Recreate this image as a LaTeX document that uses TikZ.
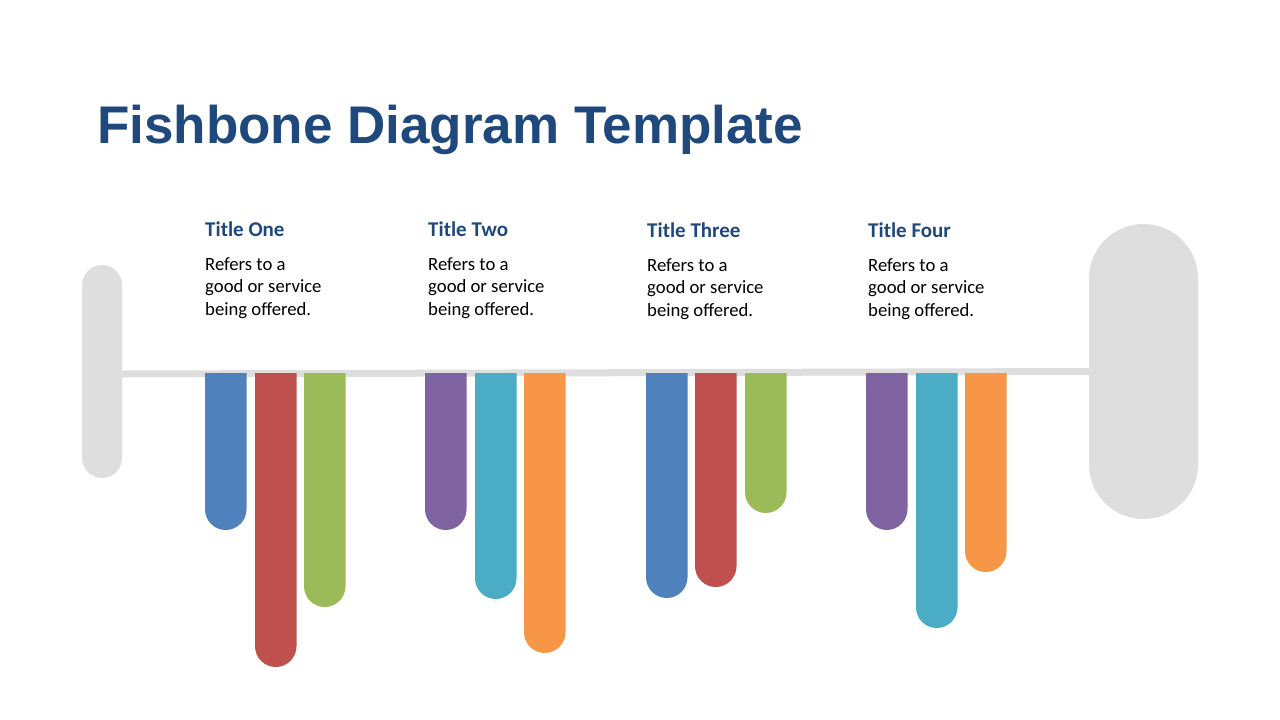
\documentclass[tikz,border=0pt]{standalone}
\usepackage{fontspec}
\setmainfont{Carlito}
\newfontfamily\headfont{Liberation Sans}
\usetikzlibrary{positioning}
\usepackage{xcolor}

\definecolor{titleblue}{HTML}{1F497D}
\definecolor{bonegray}{HTML}{DEDEDE}
\definecolor{barblue}{HTML}{4F81BD}
\definecolor{barred}{HTML}{C0504D}
\definecolor{bargreen}{HTML}{9BBB59}
\definecolor{barpurple}{HTML}{8064A2}
\definecolor{barteal}{HTML}{4BACC6}
\definecolor{barorange}{HTML}{F79646}

\begin{document}
\begin{tikzpicture}[x=1pt,y=-1pt,
    capbox/.style={fill=bonegray, inner sep=0pt, rounded corners=#1},
    spine/.style={draw=bonegray, line width=7pt},
    cause/.style={font=\bfseries\fontsize{21}{24}\selectfont, text=titleblue,
                  inner sep=0pt, anchor=base west},
    note/.style={font=\fontsize{18.7}{22.8}\selectfont, align=left,
                 inner sep=0pt}]
    \useasboundingbox (0,0) rectangle (1280,720);
    \fill[white] (0,0) rectangle (1280,720);

    % heading
    \node[font=\headfont\bfseries\fontsize{53}{60}\selectfont,
          text=titleblue,
          anchor=base west,
          inner sep=0pt
          ] (heading) at (97,143) {Fishbone Diagram Template};

    % tail and head of the fish
    \node[capbox=20pt,
          minimum width=40pt,
          minimum height=213pt
          ] (tail) at (102,371.5) {};
    \node[capbox=54.5pt,
          minimum width=109pt,
          minimum height=295pt
          ] (head) at (1143.5,371.5) {};

    % spine
    \draw[spine] ([yshift=-2.5pt]tail.east) -- ([xshift=3pt]head.west);

    % bones
    \foreach \x/\b/\c in {205/530/barblue, 255/667/barred, 304/607/bargreen,
                          425/530/barpurple, 475/599/barteal, 524/653/barorange,
                          646/598/barblue, 695/587/barred, 745/513/bargreen,
                          866/530/barpurple, 916/628/barteal, 965/572/barorange}
        \fill[\c] (\x,373) -- (\x,\b-20.75)
            arc[start angle=180, end angle=0, radius=20.75]
            -- (\x+41.5,373) -- cycle;

    % causes
    \node[cause] (t1) at (205,236) {Title One};
    \node[cause] (t2) at (428,236) {Title Two};
    \node[cause] (t3) at (647,237) {Title Three};
    \node[cause] (t4) at (868,237) {Title Four};

    \node[note,
          below=21pt of t1.base west,
          anchor=north west
          ] (n1) {Refers to a\\good or service\\being offered.};
    \node[note,
          below=21pt of t2.base west,
          anchor=north west
          ] (n2) {Refers to a\\good or service\\being offered.};
    \node[note,
          below=21pt of t3.base west,
          anchor=north west
          ] (n3) {Refers to a\\good or service\\being offered.};
    \node[note,
          below=21pt of t4.base west,
          anchor=north west
          ] (n4) {Refers to a\\good or service\\being offered.};
\end{tikzpicture}
\end{document}
